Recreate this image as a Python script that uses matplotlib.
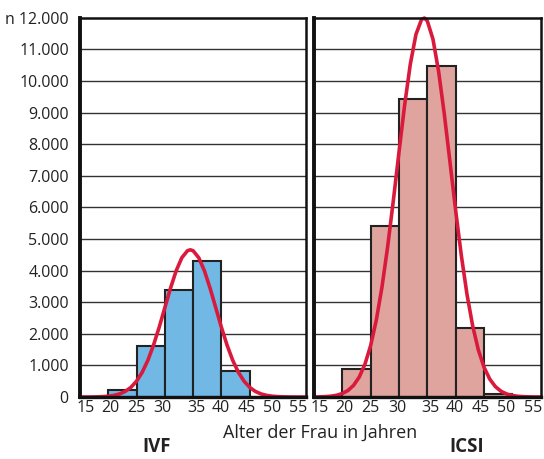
import matplotlib
matplotlib.use("Agg")
import matplotlib.pyplot as plt
from matplotlib.transforms import ScaledTranslation

plt.rcParams['font.family'] = ['Open Sans', 'DejaVu Sans']

# ---- data ----
bin_left = [20, 25, 30, 35, 40, 45]
ivf_counts = [210, 1630, 3390, 4310, 820, 10]
icsi_counts = [900, 5420, 9440, 10470, 2170, 90]

curve_age = [15, 16, 17, 18, 19, 20, 21, 22, 23, 24, 25, 26, 27, 28, 29,
             30, 31, 32, 33, 34, 34.5, 35, 36, 37, 38, 39, 40, 41, 42, 43,
             44, 45, 46, 47, 48, 49, 50, 51, 52, 53, 54, 55]
ivf_curve = [0, 1, 2, 6, 12, 26, 52, 98, 178, 306, 502, 783, 1162, 1642, 2208,
             2826, 3444, 3994, 4408, 4631, 4660, 4631, 4408, 3994, 3444, 2826,
             2208, 1642, 1162, 783, 502, 306, 178, 98, 52, 26, 12, 6, 2, 1, 0, 0]
icsi_curve = [2, 6, 13, 27, 56, 110, 206, 370, 633, 1037, 1624, 2430, 3474,
              4748, 6203, 7742, 9238, 10533, 11479, 11957, 11995, 11903, 11325,
              10297, 8950, 7433, 5901, 4477, 3246, 2250, 1490, 943, 571, 330,
              182, 96, 49, 23, 11, 5, 2, 1]

x_ticks = [15, 20, 25, 30, 35, 40, 45, 50, 55]
y_ticks = [0, 1000, 2000, 3000, 4000, 5000, 6000, 7000, 8000, 9000, 10000, 11000, 12000]
y_labels = ['0', '1.000', '2.000', '3.000', '4.000', '5.000', '6.000', '7.000',
            '8.000', '9.000', '10.000', '11.000', 'n 12.000']

# small nudges of the x labels (pixels), as in the printed original
x_nudge = [6, 2, 0, -2, 3, -1, -3, -6, -8]

ivf_color = '#72B8E4'
icsi_color = '#DFA49E'
curve_color = '#DA1A3D'

fig = plt.figure(figsize=(5.44, 4.59), dpi=100)
ax1 = fig.add_axes([0.147, 0.135, 0.416, 0.826])
ax2 = fig.add_axes([0.577, 0.135, 0.417, 0.826])

panels = [(ax1, ivf_counts, ivf_curve, ivf_color),
          (ax2, icsi_counts, icsi_curve, icsi_color)]

for ax, counts, curve, col in panels:
    for y in y_ticks[1:-1]:
        ax.axhline(y, color='#333333', lw=1.0, zorder=1)
    ax.bar(bin_left, counts, width=5, align='edge', color=col,
           edgecolor='#222222', linewidth=1.5, zorder=2)
    ax.plot(curve_age, curve, color=curve_color, lw=2.6, zorder=3,
            solid_joinstyle='round', clip_on=False)
    ax.set_xlim(15, 55)
    ax.set_ylim(0, 12000)
    ax.set_xticks(x_ticks)
    ax.set_xticklabels([])
    ax.tick_params(axis='x', length=0)
    for t, dx in zip(x_ticks, x_nudge):
        tr = ax.get_xaxis_transform() + ScaledTranslation(dx / 100, -3 / 100, fig.dpi_scale_trans)
        ax.text(t, 0, str(t), transform=tr, ha='center', va='top',
                fontsize=11.5, color='#222222')
    ax.set_yticks(y_ticks)
    for s in ax.spines.values():
        s.set_linewidth(1.8)
        s.set_color('#111111')
        s.set_zorder(4)
    ax.spines['left'].set_linewidth(2.8)
    ax.spines['bottom'].set_linewidth(2.4)

ax1.set_yticklabels(y_labels, fontsize=11.5, color='#222222')
ax1.tick_params(axis='y', length=0, pad=8)
ax2.set_yticklabels([])
ax2.tick_params(axis='y', length=0)

fig.text(0.588, 0.058, 'Alter der Frau in Jahren', fontsize=13,
         ha='center', va='center', color='#222222')
fig.text(0.287, 0.026, 'IVF', fontsize=13.5, fontweight='bold',
         ha='center', va='center', color='#222222')
fig.text(0.857, 0.026, 'ICSI', fontsize=13.5, fontweight='bold',
         ha='center', va='center', color='#222222')

fig.savefig('out.png', dpi=100)
